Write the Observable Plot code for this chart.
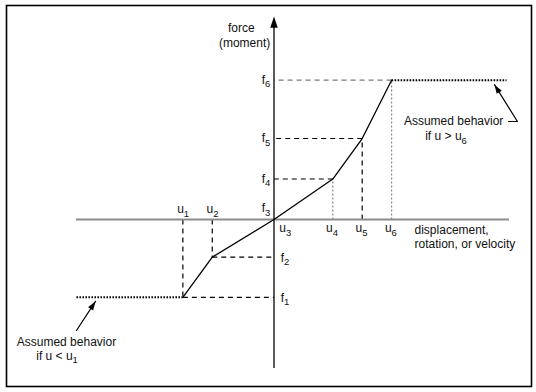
<!DOCTYPE html>
<html>
<head>
<meta charset="utf-8">
<script src="https://cdn.jsdelivr.net/npm/d3@7"></script>
<script src="https://cdn.jsdelivr.net/npm/@observablehq/plot@0.6"></script>
<style>
html,body{margin:0;padding:0;background:#fff;}
</style>
</head>
<body>
<div id="chart"></div>
<script>
// Breakpoints of the force-displacement curve (arbitrary units)
const uValues = [-3.1, -2.1, 0, 2, 3, 4];
const fValues = [-1.92, -0.93, 0, 1, 2, 3.44];
const pointIndex = ["1", "2", "3", "4", "5", "6"];
const uSymbol = "u";
const fSymbol = "f";
// Extents of the axes and of the assumed-behaviour plateaus
const xAxisExtent = [-6.72, 8.01];
const yAxisExtent = [-3.68, 5.01];
const plateauExtent = [-6.72, 7.91];
// Axis titles
const yTitle = ["force", "(moment)"];
const yTitleX = [-1.11, -1.0];
const yTitleY = [4.72, 4.35];
const xTitle = ["displacement,", "rotation, or velocity"];
const xTitleX = [4.78, 4.78];
const xTitleY = [-0.27, -0.62];
// Annotations
const noteText = ["Assumed behavior", "Assumed behavior"];
const noteX = [-7.06, 6.11];
const noteY = [-3.04, 2.42];
const condText = ["if u < u", "if u > u"];
const condSub = ["1", "6"];
const condX = [-6.85, 6.38];
const condY = [-3.38, 2.05];
const leftArrowX = [-6.72, -6.07];
const leftArrowY = [-2.74, -2.02];
const rightArrowX = [7.98, 8.28, 7.5];
const rightArrowY = [2.42, 2.42, 3.33];

// ---- build tables from the arrays ----
const W = 536, H = 392;
const margin = {top: 5, right: 5, bottom: 6, left: 6};
const xDomain = [-9.099, 8.759];
const yDomain = [-4.123, 5.284];
const px = d3.scaleLinear(xDomain, [margin.left, W - margin.right]);
const py = d3.scaleLinear(yDomain, [H - margin.bottom, margin.top]);
const angle = (x0, y0, x1, y1) =>
  Math.atan2(px(x1) - px(x0), -(py(y1) - py(y0))) * 180 / Math.PI;

const pts = uValues.map((u, i) => ({u, f: fValues[i], sub: pointIndex[i], i}));
const leftPlateau = [{x: plateauExtent[0], y: fValues[0]}, {x: uValues[0], y: fValues[0]}];
const rightPlateau = [{x: uValues[5], y: fValues[5]}, {x: plateauExtent[1], y: fValues[5]}];

const guidesBlack = [], guidesGrayV = [], guidesGrayH = [];
pts.forEach(p => {
  if (p.i === 2) return;
  const v = {x1: p.u, y1: 0, x2: p.u, y2: p.f};
  const h = {x1: p.u, y1: p.f, x2: 0, y2: p.f};
  if (p.i === 3 || p.i === 5) guidesGrayV.push(v); else guidesBlack.push(v);
  if (p.i === 5) guidesGrayH.push(h); else guidesBlack.push(h);
});

const uAbove = pts.slice(0, 2);
const uOrigin = pts.slice(2, 3);
const uBelow = pts.slice(3);
const fLeft = pts.slice(3);
const fOrigin = pts.slice(2, 3);
const fRight = pts.slice(0, 2);

const arrowHead = {
  draw(ctx, size) {
    const s = Math.sqrt(size / Math.PI) / 4;
    ctx.moveTo(0, 0);
    ctx.lineTo(-3 * s, 9 * s);
    ctx.lineTo(3 * s, 9 * s);
    ctx.closePath();
  }
};

const yTitles = yTitle.map((t, i) => ({t, x: yTitleX[i], y: yTitleY[i]}));
const xTitles = xTitle.map((t, i) => ({t, x: xTitleX[i], y: xTitleY[i]}));
const notes = noteText.map((t, i) => ({t, x: noteX[i], y: noteY[i]}));
const conds = condText.map((t, i) => ({t, sub: condSub[i], x: condX[i], y: condY[i]}));
const leftArrow = leftArrowX.map((x, i) => ({x, y: leftArrowY[i]}));
const rightArrow = rightArrowX.map((x, i) => ({x, y: rightArrowY[i]}));
const heads = [
  {x: 0, y: yAxisExtent[1], r: 0, s: 5},
  {x: leftArrowX[1], y: leftArrowY[1], r: angle(leftArrowX[0], leftArrowY[0], leftArrowX[1], leftArrowY[1]), s: 4},
  {x: rightArrowX[2], y: rightArrowY[2], r: angle(rightArrowX[1], rightArrowY[1], rightArrowX[2], rightArrowY[2]), s: 4}
];

const ink = "#111";
const subSize = 9.5;
const zero = () => 0;

const chart = Plot.plot({
  width: W,
  height: H,
  marginTop: margin.top,
  marginRight: margin.right,
  marginBottom: margin.bottom,
  marginLeft: margin.left,
  x: {domain: xDomain, axis: null},
  y: {domain: yDomain, axis: null},
  r: {type: "identity"},
  style: {fontFamily: "'Liberation Sans', Arial, sans-serif", fontSize: "12px", background: "#fff", overflow: "visible"},
  marks: [
    Plot.frame({stroke: "#000", strokeWidth: 1.6}),
    // dashed guides
    Plot.link(guidesBlack, {x1: "x1", y1: "y1", x2: "x2", y2: "y2", stroke: "#000", strokeWidth: 1.2, strokeDasharray: "5,4"}),
    Plot.link(guidesGrayV, {x1: "x1", y1: "y1", x2: "x2", y2: "y2", stroke: "#888", strokeWidth: 1.2, strokeDasharray: "2,2"}),
    Plot.link(guidesGrayH, {x1: "x1", y1: "y1", x2: "x2", y2: "y2", stroke: "#777", strokeWidth: 1.2, strokeDasharray: "5,4"}),
    // axes
    Plot.ruleY([0], {x1: xAxisExtent[0], x2: xAxisExtent[1], stroke: "#8c8c8c", strokeWidth: 2.2}),
    Plot.ruleX([0], {y1: yAxisExtent[0], y2: yAxisExtent[1] - 0.15, stroke: "#000", strokeWidth: 1.3}),
    // plateaus (assumed behaviour)
    Plot.line(leftPlateau, {x: "x", y: "y", stroke: "#000", strokeWidth: 2, strokeDasharray: "1.6,1.4", strokeLinecap: "butt"}),
    Plot.line(rightPlateau, {x: "x", y: "y", stroke: "#000", strokeWidth: 2, strokeDasharray: "1.6,1.4", strokeLinecap: "butt"}),
    // main curve
    Plot.line(pts, {x: "u", y: "f", stroke: "#000", strokeWidth: 1.3}),
    // annotation arrows
    Plot.line(leftArrow, {x: "x", y: "y", stroke: "#000", strokeWidth: 1.2}),
    Plot.line(rightArrow, {x: "x", y: "y", stroke: "#000", strokeWidth: 1.2}),
    Plot.dot(heads, {x: "x", y: "y", rotate: "r", symbol: arrowHead, r: "s", fill: "#000", stroke: "none"}),
    // u labels
    Plot.text(uAbove, {x: "u", y: zero, text: () => uSymbol, textAnchor: "end", dx: 1, dy: -10, fill: ink}),
    Plot.text(uAbove, {x: "u", y: zero, text: "sub", textAnchor: "start", dx: 1, dy: -6, fontSize: subSize, fill: ink}),
    Plot.text(uOrigin, {x: "u", y: zero, text: () => uSymbol, textAnchor: "end", dx: 12, dy: 9, fill: ink}),
    Plot.text(uOrigin, {x: "u", y: zero, text: "sub", textAnchor: "start", dx: 12, dy: 13, fontSize: subSize, fill: ink}),
    Plot.text(uBelow, {x: "u", y: zero, text: () => uSymbol, textAnchor: "end", dx: 0, dy: 9, fill: ink}),
    Plot.text(uBelow, {x: "u", y: zero, text: "sub", textAnchor: "start", dx: 0, dy: 13, fontSize: subSize, fill: ink}),
    // f labels
    Plot.text(fLeft, {x: zero, y: "f", text: () => fSymbol, textAnchor: "end", dx: -9, dy: 0, fill: ink}),
    Plot.text(fLeft, {x: zero, y: "f", text: "sub", textAnchor: "start", dx: -9, dy: 4, fontSize: subSize, fill: ink}),
    Plot.text(fOrigin, {x: zero, y: "f", text: () => fSymbol, textAnchor: "end", dx: -9, dy: -11, fill: ink}),
    Plot.text(fOrigin, {x: zero, y: "f", text: "sub", textAnchor: "start", dx: -9, dy: -7, fontSize: subSize, fill: ink}),
    Plot.text(fRight, {x: zero, y: "f", text: () => fSymbol, textAnchor: "end", dx: 10, dy: 1, fill: ink}),
    Plot.text(fRight, {x: zero, y: "f", text: "sub", textAnchor: "start", dx: 10, dy: 5, fontSize: subSize, fill: ink}),
    // axis titles
    Plot.text(yTitles, {x: "x", y: "y", text: "t", textAnchor: "middle", fill: ink}),
    Plot.text(xTitles, {x: "x", y: "y", text: "t", textAnchor: "start", fill: ink}),
    // annotation texts
    Plot.text(notes, {x: "x", y: "y", text: "t", textAnchor: "middle", fill: ink}),
    Plot.text(conds, {x: "x", y: "y", text: "t", textAnchor: "end", fill: ink}),
    Plot.text(conds, {x: "x", y: "y", text: "sub", textAnchor: "start", dy: 4, fontSize: subSize, fill: ink})
  ]
});
document.getElementById("chart").appendChild(chart);
</script>
</body>
</html>
